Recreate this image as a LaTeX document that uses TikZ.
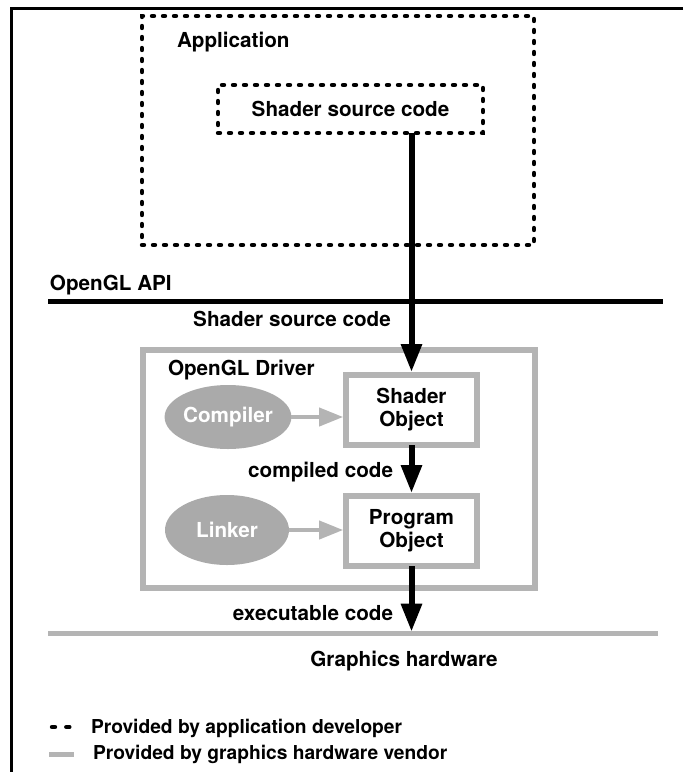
\documentclass[tikz,border=0pt]{standalone}
\usepackage{fontspec}
\setmainfont{TeX Gyre Heros}
\usetikzlibrary{shapes.geometric,arrows.meta}
\definecolor{vendorgray}{HTML}{B4B4B4}
\definecolor{toolgray}{HTML}{AAAAAA}
\begin{document}
\begin{tikzpicture}[x=0.75pt,y=-0.75pt,
  every node/.style={font=\fontsize{15.5}{17.3}\selectfont\bfseries, inner sep=0pt, outer sep=0pt},
  legendtext/.style={font=\fontsize{14.4}{17}\selectfont\bfseries},
  devbox/.style={draw=black, line width=3.3pt, dash pattern=on 1.5pt off 6.75pt, line cap=round},
  drvbox/.style={draw=vendorgray, line width=4pt},
  objbox/.style={draw=vendorgray, line width=4.5pt, fill=white, align=center,
    minimum width=98pt, minimum height=53pt},
  toolell/.style={ellipse, fill=toolgray, text=white, minimum width=93pt},
  flowarrow/.style={line width=4.5pt, -{Triangle[width=15pt,length=21pt]}, shorten >=2pt},
  toolarrow/.style={draw=vendorgray, line width=3pt, -{Triangle[width=13.5pt,length=18pt]}, shorten >=2.25pt}
]
\useasboundingbox (0,0) rectangle (683,772);
% frame
\draw[line width=2.25pt] (683,8) -- (11.5,8) -- (11.5,772);

% application
\node[devbox, minimum width=294pt, minimum height=171.75pt] (app) at (338,130.5) {};
\node[anchor=west] (applabel) at (177,42) {Application};
\node[devbox, minimum width=198.75pt, minimum height=36pt] (src) at (350.5,109) {Shader source code};

% API line
\draw[line width=3.75pt] (48,301) -- (663,301);
\node[anchor=west] (apilabel) at (50,285) {OpenGL API};
\node (srclabel) at (292,319) {Shader source code};

% driver
\node[drvbox, minimum width=294pt, minimum height=178.5pt] (driver) at (339,469) {};
\node[anchor=west] (driverlabel) at (168,370) {OpenGL Driver};
\node[objbox] (shobj) at (411.5,410) {Shader\\Object};
\node[objbox] (progobj) at (411.5,531) {Program\\Object};
\node[toolell, minimum height=48pt] (compiler) at (228,417) {Compiler};
\node[toolell, minimum height=52.5pt] (linker) at (227,530) {Linker};
\draw[toolarrow] (compiler.east) -- (compiler.east -| shobj.west);
\draw[toolarrow] (linker.east) -- (linker.east -| progobj.west);

\node[anchor=east] (compiledlabel) at (393,472) {compiled code};

% hardware line
\draw[draw=vendorgray, line width=3.75pt] (48,633) -- (658,633);
\coordinate (hw) at (411.5,633);
\node[anchor=east] (execlabel) at (393,613) {executable code};
\node (hwlabel) at (404,661) {Graphics hardware};

% flow arrows
\draw[flowarrow] (src.south -| shobj.north) -- (shobj.north);
\draw[flowarrow] (shobj.south) -- (progobj.north);
\draw[flowarrow, shorten >=1pt] (progobj.south) -- (hw);

% legend
\draw[line width=3.3pt, dash pattern=on 2.25pt off 8.5pt, line cap=round] (52,727) -- (71,727);
\node[legendtext, anchor=west] (devlegend) at (91,728) {Provided by application developer};
\draw[draw=vendorgray, line width=3.75pt] (49,754) -- (74,754);
\node[legendtext, anchor=west] (vendorlegend) at (93,754) {Provided by graphics hardware vendor};
\end{tikzpicture}
\end{document}
